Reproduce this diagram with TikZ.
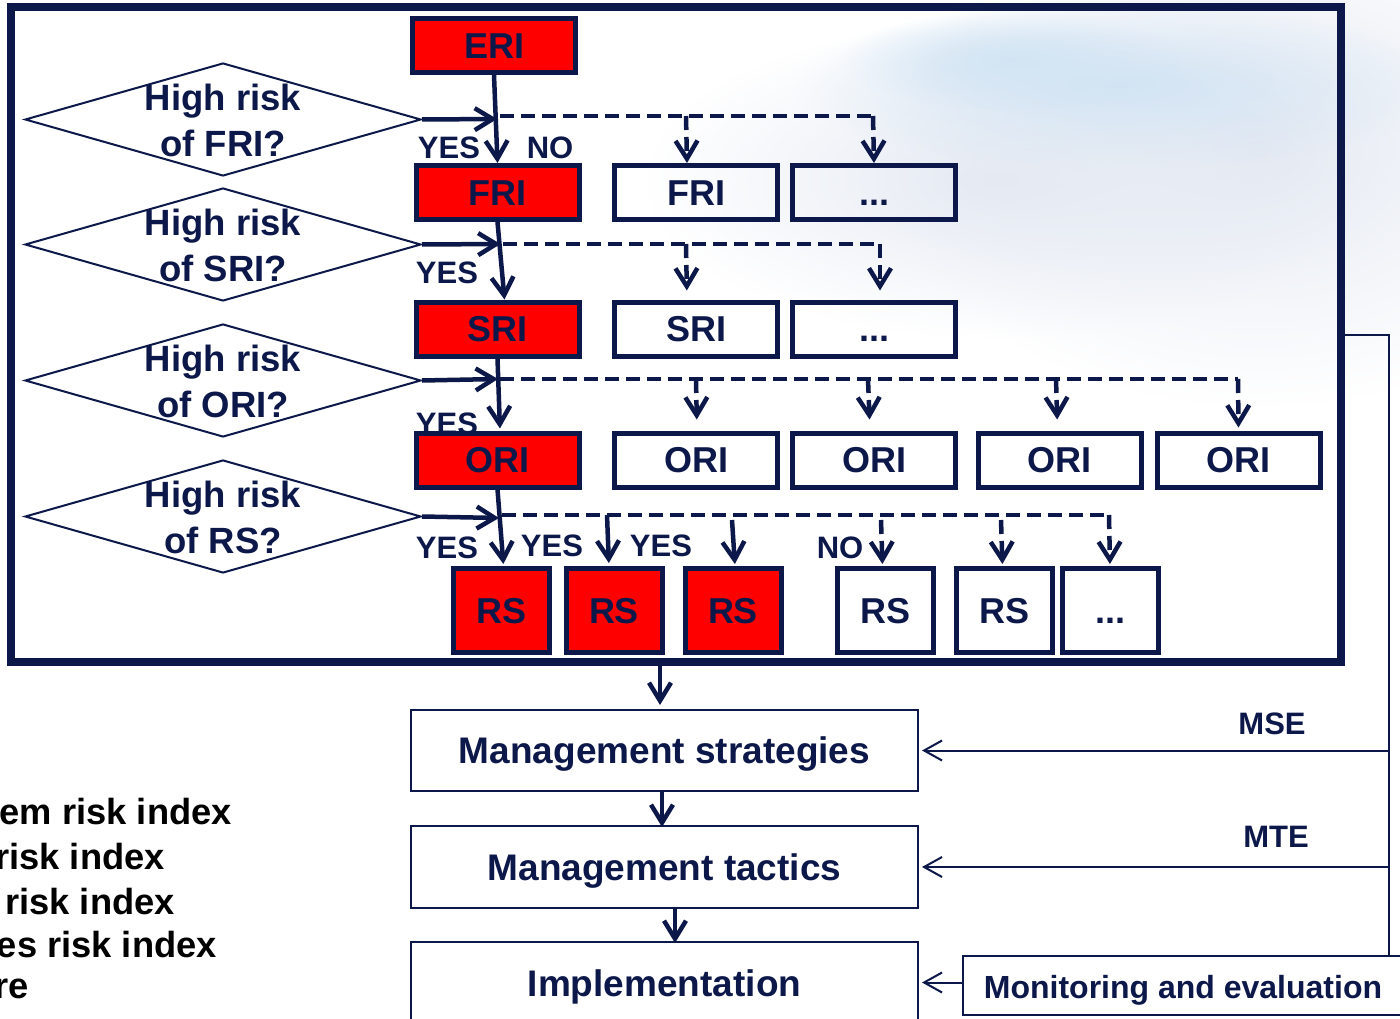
\documentclass[tikz,border=0pt]{standalone}
\usepackage{fontspec}
\setmainfont{Liberation Sans}
\usetikzlibrary{shapes.geometric,arrows.meta,fadings}
\definecolor{navy}{RGB}{13,24,74}
\definecolor{alarm}{RGB}{255,0,0}
\definecolor{skyblue}{RGB}{210,228,244}
\definecolor{skygrey}{RGB}{228,233,242}
\tikzfading[name=softspot, inner color=transparent!0, outer color=transparent!100]

\begin{document}
\begin{tikzpicture}[x=1pt,y=-1pt,
  riskbox/.style={draw=navy, line width=5pt, inner sep=0pt, text=navy,
    font=\fontsize{36}{40}\selectfont\bfseries,
    text height=25.8pt, text depth=0pt,
    minimum width=163pt, minimum height=54pt},
  hot/.style={riskbox, fill=alarm},
  rsbox/.style={riskbox, minimum width=96pt, minimum height=84pt},
  hotrs/.style={rsbox, fill=alarm},
  decision/.style={diamond, draw=navy, line width=2pt, fill=white,
    minimum width=396pt, minimum height=113pt, inner sep=0pt},
  qtext/.style={text=navy, align=center, inner sep=0pt,
    font=\fontsize{36.5}{46}\selectfont\bfseries},
  answer/.style={text=navy, inner sep=0pt,
    font=\fontsize{31}{34}\selectfont\bfseries},
  flow/.style={draw=navy, line width=4.5pt,
    -{Straight Barb[length=18pt,width=22pt]}},
  dashline/.style={draw=navy, line width=4.5pt, dash pattern=on 14pt off 7pt},
  option/.style={flow, dash pattern=on 14pt off 7pt},
  stagebox/.style={draw=navy, line width=2pt, inner sep=0pt, text=navy,
    font=\fontsize{37}{40}\selectfont\bfseries,
    text height=26.5pt, text depth=0pt,
    minimum width=507pt, minimum height=81pt},
  stagetext/.style={text=navy, inner sep=0pt,
    font=\fontsize{37}{40}\selectfont\bfseries,
    text height=26.5pt, text depth=0pt},
  feedback/.style={draw=navy, line width=2pt,
    -{Straight Barb[length=18pt,width=20pt]}},
  loopname/.style={text=navy, inner sep=0pt,
    font=\fontsize{31}{34}\selectfont\bfseries},
  legend/.style={text=black, inner sep=0pt, anchor=east,
    font=\fontsize{36.3}{40}\selectfont\bfseries},
  panel/.style={draw=navy, line width=8pt, inner sep=0pt,
    minimum width=1330pt, minimum height=654.5pt}
]
\useasboundingbox (0,0) rectangle (1400,1019);
\clip (0,0) rectangle (1400,1019);

% soft sky behind the upper right part
\fill[skygrey, path fading=softspot] (1260,150) ellipse [x radius=380, y radius=260];
\fill[skygrey, path fading=softspot] (1000,180) ellipse [x radius=360, y radius=160];
\fill[skyblue, path fading=softspot] (1120,85) ellipse [x radius=330, y radius=85];
\fill[skyblue, path fading=softspot] (1010,60) ellipse [x radius=170, y radius=50];

% outer panel of the risk screening
\node[panel] (panel) at (676,334.75) {};

% decision diamonds
\node[decision] (d1) at (223,119.5) {};
\node[decision] (d2) at (223,244.5) {};
\node[decision] (d3) at (223,380.5) {};
\node[decision] (d4) at (223,516.5) {};
\node[qtext] (q1) at (223,120.5) {High risk\\of FRI?};
\node[qtext] (q2) at (223,245.5) {High risk\\of SRI?};
\node[qtext] (q3) at (223,381.5) {High risk\\of ORI?};
\node[qtext] (q4) at (223,517.5) {High risk\\of RS?};

% answer labels (the third one sits partly under the ORI box)
\node[answer] (a1) at (449,148) {YES};
\node[answer] (a1n) at (550,148) {NO};
\node[answer] (a2) at (447,273) {YES};
\node[answer] (a3) at (447,424) {YES};
\node[answer] (a4) at (447,548) {YES};
\node[answer] (a4b) at (552,546) {YES};
\node[answer] (a4c) at (661,546) {YES};
\node[answer] (a4n) at (840,548) {NO};

% index boxes
\node[hot] (eri) at (494,45.5) {ERI};
\node[hot] (fri) at (497.5,192.5) {FRI};
\node[riskbox] (fri2) at (696,192.5) {FRI};
\node[riskbox] (fri3) at (874,192.5) {...};
\node[hot] (sri) at (497.5,329) {SRI};
\node[riskbox] (sri2) at (696,329) {SRI};
\node[riskbox] (sri3) at (874,329) {...};
\node[hot] (ori) at (497.5,460) {ORI};
\node[riskbox] (ori2) at (696,460) {ORI};
\node[riskbox] (ori3) at (874,460) {ORI};
\node[riskbox] (ori4) at (1059.5,460) {ORI};
\node[riskbox] (ori5) at (1238.5,460) {ORI};
\node[hotrs] (rs1) at (501.5,610.5) {RS};
\node[hotrs] (rs2) at (614,610.5) {RS};
\node[hotrs] (rs3) at (733,610.5) {RS};
\node[rsbox] (rs4) at (885.5,610.5) {RS};
\node[rsbox] (rs5) at (1004.5,610.5) {RS};
\node[rsbox] (rs6) at (1110,610.5) {...};

% junctions on the main column
\coordinate (j1) at (497,119);
\coordinate (j2) at (500.5,244);
\coordinate (j3) at (498,379);
\coordinate (j4) at (499,518);
\coordinate (e1) at (873,116);
\coordinate (e2) at (880,244);
\coordinate (e3) at (1238,379);
\coordinate (e4) at (1109,515);

% main column
\draw[flow] (eri.south) -- (fri.north);
\draw[flow] (fri.south) -- ([xshift=7pt]sri.north);
\draw[flow, shorten >=2pt] (sri.south) -- ([xshift=2.5pt]ori.north);
\draw[flow, shorten >=2pt] (ori.south) -- ([xshift=2pt]rs1.north);

% questions feed the column
\draw[flow] (d1.east) -- (j1);
\draw[flow] (d2.east) -- (j2);
\draw[flow] (d3.east) -- (j3);
\draw[flow] (d4.east) -- (j4);

% alternative branches
\draw[dashline] (500,116) -- (e1);
\draw[option] (686,116) -- ([xshift=-9pt]fri2.north);
\draw[option] (e1) -- (fri3.north);

\draw[dashline] (503,244) -- (e2);
\draw[option, shorten >=9pt] (686,244) -- ([xshift=-9pt]sri2.north);
\draw[option, shorten >=9pt] (e2) -- ([xshift=6pt]sri3.north);

\draw[dashline] (500,379) -- (e3);
\draw[option, shorten >=11pt] (696,379) -- ([xshift=1pt]ori2.north);
\draw[option, shorten >=11pt] (868,379) -- ([xshift=-4pt]ori3.north);
\draw[option, shorten >=11pt] (1056,379) -- ([xshift=-2pt]ori4.north);
\draw[option, shorten >=3pt] (e3) -- (ori5.north);

\draw[dashline] (502,515) -- (e4);
\draw[flow, shorten >=3pt] (607,515) -- ([xshift=-5pt]rs2.north);
\draw[flow, shorten >=2pt] (732,520) -- ([xshift=2pt]rs3.north);
\draw[option, shorten >=2pt] (881,520) -- ([xshift=-3pt]rs4.north);
\draw[option, shorten >=2pt] (1001,520) -- ([xshift=-2pt]rs5.north);
\draw[option, shorten >=2pt] (e4) -- (rs6.north);

% management cycle
\node[stagebox] (ms) at (664.5,750.5) {Management strategies};
\node[stagebox, minimum height=82pt] (mt) at (664.5,867) {Management tactics};
\node[stagebox, minimum height=110pt] (impl) at (664.5,997) {};
\node[stagetext] (impltext) at (664.5,983) {Implementation};
\node[draw=navy, line width=2pt, minimum width=440pt, minimum height=59pt,
  inner sep=0pt] (me) at (1183,985.5) {};
\node[stagetext, font=\fontsize{32}{36}\selectfont\bfseries, text height=23pt]
  (metext) at (1183,987) {Monitoring and evaluation};

\coordinate (fa) at ([xshift=-4.5pt]ms.north);
\draw[flow, shorten >=4pt] (fa |- panel.south) -- (fa);
\draw[flow, shorten >=-2pt] ([xshift=-2.5pt]ms.south) -- ([xshift=-2.5pt]mt.north);
\draw[flow, shorten >=-2pt] ([xshift=10.5pt]mt.south) -- ([xshift=10.5pt]impl.north);

% feedback loops
\coordinate (fb) at (1389,335);
\draw[navy, line width=2pt] (panel.east |- fb) -- (fb) -- (fb |- me.north);
\draw[feedback, shorten >=3pt] (fb |- ms.east) -- (ms.east);
\draw[feedback, shorten >=3pt] (fb |- mt.east) -- (mt.east);
\draw[feedback, shorten >=3pt] ([yshift=3pt]me.west) -- ([yshift=3pt]me.west -| impl.east);
\node[loopname] (mse) at (1272,724) {MSE};
\node[loopname] (mte) at (1276,837) {MTE};

% key to the abbreviations
\node[legend] (k1) at (232,812) {em risk index};
\node[legend] (k2) at (165,857) {risk index};
\node[legend] (k3) at (175,902) {risk index};
\node[legend] (k4) at (217,945) {es risk index};
\node[legend] (k5) at (29,989) {re};
\end{tikzpicture}
\end{document}
